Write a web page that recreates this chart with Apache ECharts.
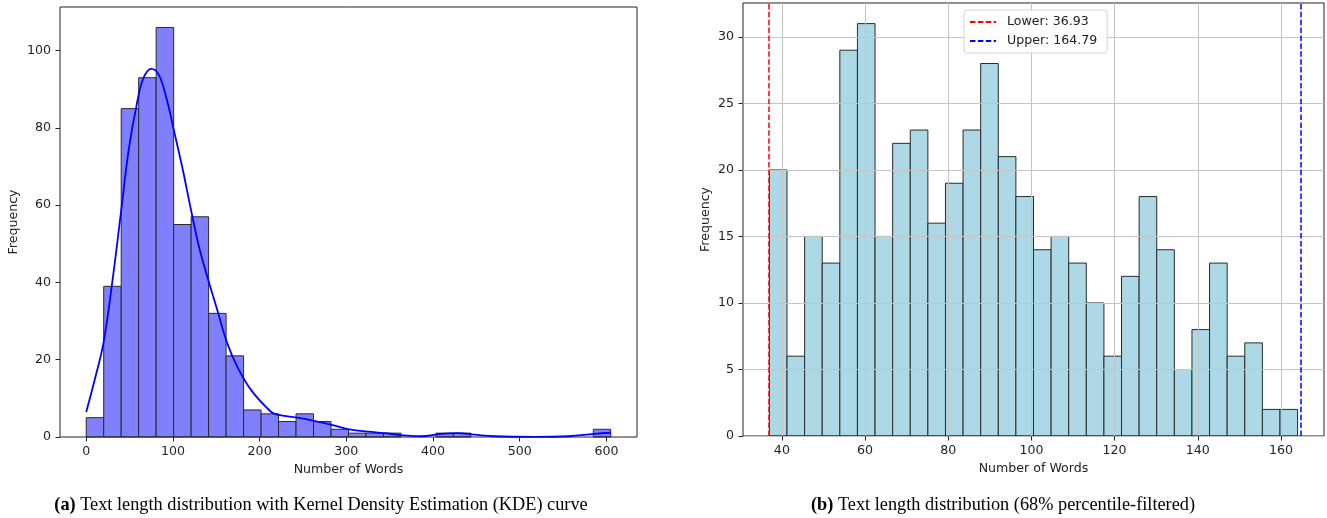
<!DOCTYPE html>
<html><head><meta charset="utf-8">
<script src="https://cdn.jsdelivr.net/npm/echarts@6/dist/echarts.min.js"></script>
<style>html,body{margin:0;padding:0;background:#fff}#c{width:1327px;height:518px}</style>
</head><body><div id="c"></div>
<script>
// ---- (a) full distribution ----
const leftBinMin = 0, leftBinMax = 605, leftBinCount = 30;
const leftCounts = [5,39,85,93,106,55,57,32,21,7, 6,4,6,4,2,1,1,1,0,0, 1,1,0,0,0,0,0,0,0,2];
const kdeX = [0,10,20,30,40,49,58.6,66,75,83.6,93,101,110.6,120,130,139.5,151,162.6,174,190,212.7,220,247,282,305,325,344,363,386,409,428,448,471,517,556,586,605];
const kdeY = [6.5,15,24.5,40,58,74.4,86.5,92.9,95.3,93.8,87.3,79.5,70,59.7,49.3,41.6,33,24.3,18.3,12.2,6.6,5.8,4.9,3.2,1.9,1.4,1.0,0.5,0.2,0.8,1.0,0.6,0.2,0.05,0.2,0.8,1.1];
const leftXTicks = [0,100,200,300,400,500,600];
const leftYTicks = [0,20,40,60,80,100];
const leftXRange = [-30.25, 635.25];
const leftYMax = 111.3;

// ---- (b) percentile-filtered ----
const rightBinMin = 37, rightBinMax = 164, rightBinCount = 30;
const rightCounts = [20,6,15,13,29,31,15,22,23,16, 19,23,28,21,18,14,15,13,10,6, 12,18,14,5,8,13,6,7,2,2];
const lowerBound = 36.93, upperBound = 164.79;
const rightXTicks = [40,60,80,100,120,140,160];
const rightYTicks = [0,5,10,15,20,25,30];
const rightXRange = [30.65, 170.35];
const rightYMax = 32.55;

const captionA = 'Text length distribution with Kernel Density Estimation (KDE) curve';
const captionB = 'Text length distribution (68% percentile-filtered)';

function bins(min, max, n, counts) {
  const w = (max - min) / n;
  return counts.map((c, i) => [min + i * w, min + (i + 1) * w, c]);
}
function histRender(fill, stroke) {
  return function (params, api) {
    const c = api.value(2);
    if (!c) return null;
    const p0 = api.coord([api.value(0), c]);
    const p1 = api.coord([api.value(1), 0]);
    return {type: 'rect', shape: {x: p0[0], y: p0[1], width: p1[0] - p0[0], height: p1[1] - p0[1]},
      style: {fill: fill, stroke: stroke, lineWidth: 1}};
  };
}
const FONT = 'DejaVu Sans';
const FS = 12.6;
const tickFont = {fontFamily: FONT, fontSize: FS, color: '#222'};
const nameFont = {fontFamily: FONT, fontSize: FS, color: '#222'};
const tickLine = {color: '#222', width: 1};

const chart = echarts.init(document.getElementById('c'), null, {renderer: 'canvas'});
chart.setOption({
  animation: false,
  grid: [
    {left: 60, top: 7, width: 577, height: 430, show: true, borderColor: '#222', borderWidth: 1, backgroundColor: 'transparent'},
    {left: 743, top: 3, width: 581, height: 433, show: true, borderColor: '#222', borderWidth: 1, backgroundColor: 'transparent'}
  ],
  xAxis: [
    {type: 'value', gridIndex: 0, min: leftXRange[0], max: leftXRange[1],
     name: 'Number of Words', nameLocation: 'middle', nameGap: 25, nameTextStyle: nameFont,
     axisLine: {show: false, onZero: false},
     axisTick: {show: true, customValues: leftXTicks, length: 4.5, lineStyle: tickLine},
     axisLabel: Object.assign({customValues: leftXTicks, margin: 8}, tickFont),
     splitLine: {show: false}},
    {type: 'value', gridIndex: 1, min: rightXRange[0], max: rightXRange[1],
     name: 'Number of Words', nameLocation: 'middle', nameGap: 26, nameTextStyle: nameFont,
     axisLine: {show: false, onZero: false},
     axisTick: {show: true, customValues: rightXTicks, length: 4.5, lineStyle: tickLine},
     axisLabel: Object.assign({customValues: rightXTicks, margin: 8}, tickFont),
     splitLine: {show: true, lineStyle: {color: '#c4c4c4', width: 1}}}
  ],
  yAxis: [
    {type: 'value', gridIndex: 0, min: 0, max: leftYMax,
     name: 'Frequency', nameLocation: 'middle', nameGap: 40, nameTextStyle: nameFont,
     axisLine: {show: false, onZero: false},
     axisTick: {show: true, customValues: leftYTicks, length: 4.5, lineStyle: tickLine},
     axisLabel: Object.assign({customValues: leftYTicks, margin: 9}, tickFont),
     splitLine: {show: false}},
    {type: 'value', gridIndex: 1, min: 0, max: rightYMax,
     name: 'Frequency', nameLocation: 'middle', nameGap: 31, nameTextStyle: nameFont,
     axisLine: {show: false, onZero: false},
     axisTick: {show: true, customValues: rightYTicks, length: 4.5, lineStyle: tickLine},
     axisLabel: Object.assign({customValues: rightYTicks, margin: 9}, tickFont),
     splitLine: {show: true, lineStyle: {color: '#c4c4c4', width: 1}}}
  ],
  legend: {
    orient: 'vertical', left: 964, top: 10,
    backgroundColor: 'rgba(255,255,255,0.85)', borderColor: '#d4d4d4', borderWidth: 1, borderRadius: 3,
    padding: [5, 10, 5, 5], itemWidth: 26, itemHeight: 10, itemGap: 5,
    textStyle: {fontFamily: FONT, fontSize: FS, color: '#222', lineHeight: 14, padding: [0, 0, 0, 6]},
    data: ['Lower: ' + lowerBound.toFixed(2), 'Upper: ' + upperBound.toFixed(2)]
  },
  series: [
    {type: 'custom', xAxisIndex: 0, yAxisIndex: 0, z: -1, silent: true,
     renderItem: histRender('#8080ff', '#2a2a2a'),
     encode: {x: [0, 1], y: 2},
     data: bins(leftBinMin, leftBinMax, leftBinCount, leftCounts)},
    {type: 'line', xAxisIndex: 0, yAxisIndex: 0, smooth: 0.4, showSymbol: false, symbol: 'none', z: 5,
     lineStyle: {color: '#0000ff', width: 1.8}, itemStyle: {color: '#0000ff'},
     data: kdeX.map((x, i) => [x, kdeY[i]])},
    {type: 'custom', xAxisIndex: 1, yAxisIndex: 1, z: -1, silent: true,
     renderItem: histRender('#add8e6', '#2a2a2a'),
     encode: {x: [0, 1], y: 2},
     data: bins(rightBinMin, rightBinMax, rightBinCount, rightCounts)},
    {type: 'line', name: 'Lower: ' + lowerBound.toFixed(2), xAxisIndex: 1, yAxisIndex: 1, symbol: 'none', z: 6,
     lineStyle: {color: '#ff0000', width: 1.5, type: [5.5, 2.4]}, itemStyle: {color: 'rgba(0,0,0,0)', borderWidth: 0},
     data: [],
     markLine: {symbol: 'none', silent: true, label: {show: false},
       lineStyle: {color: '#ff0000', width: 1.5, type: [5.5, 2.4]}, data: [{xAxis: lowerBound}]}},
    {type: 'line', name: 'Upper: ' + upperBound.toFixed(2), xAxisIndex: 1, yAxisIndex: 1, symbol: 'none', z: 6,
     lineStyle: {color: '#0000ff', width: 1.5, type: [5.5, 2.4]}, itemStyle: {color: 'rgba(0,0,0,0)', borderWidth: 0},
     data: [],
     markLine: {symbol: 'none', silent: true, label: {show: false},
       lineStyle: {color: '#0000ff', width: 1.5, type: [5.5, 2.4]}, data: [{xAxis: upperBound}]}}
  ],
  graphic: [
    {type: 'text', x: 321, y: 505, style: {text: '{b|(a)} ' + captionA, textAlign: 'center', textVerticalAlign: 'middle',
      fontFamily: 'Liberation Serif', fontSize: 18.3, fill: '#000',
      rich: {b: {fontFamily: 'Liberation Serif', fontSize: 18.3, fontWeight: 'bold', fill: '#000'}}}},
    {type: 'text', x: 1003, y: 505, style: {text: '{b|(b)} ' + captionB, textAlign: 'center', textVerticalAlign: 'middle',
      fontFamily: 'Liberation Serif', fontSize: 18.3, fill: '#000',
      rich: {b: {fontFamily: 'Liberation Serif', fontSize: 18.3, fontWeight: 'bold', fill: '#000'}}}}
  ]
});
</script></body></html>
